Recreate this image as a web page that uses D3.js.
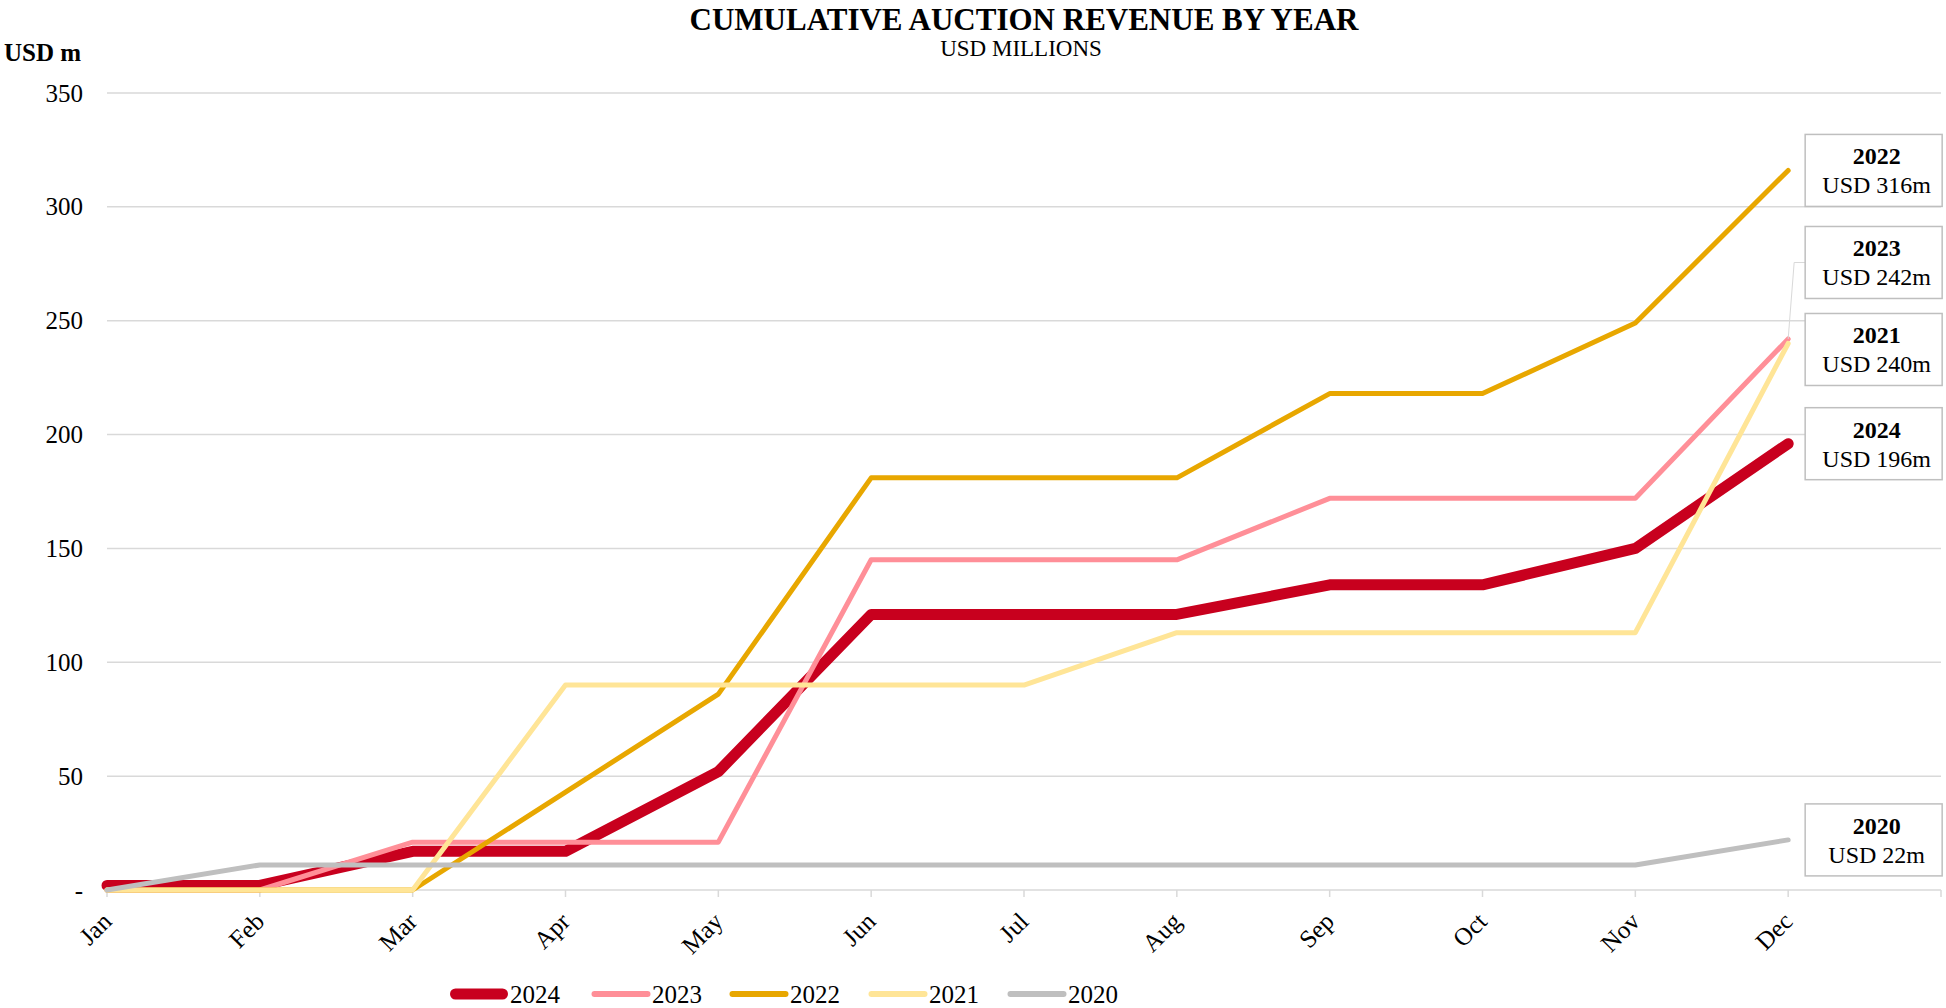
<!DOCTYPE html>
<html>
<head>
<meta charset="utf-8">
<script src="https://cdn.jsdelivr.net/npm/d3@7"></script>
<style>
  body { margin: 0; background: #fff; }
  svg { display: block; font-family: "Liberation Serif", "DejaVu Serif", serif; }
</style>
</head>
<body>
<div id="chart"></div>
<script>
// Data
const months = ["Jan", "Feb", "Mar", "Apr", "May", "Jun", "Jul", "Aug", "Sep", "Oct", "Nov", "Dec"];
const years = ["2024", "2023", "2022", "2021", "2020"];
const rev2024 = [2, 2, 17, 17, 52, 121, 121, 121, 134, 134, 150, 196];
const rev2023 = [0, 0, 21, 21, 21, 145, 145, 145, 172, 172, 172, 242];
const rev2022 = [0, 0, 0, 43, 86, 181, 181, 181, 218, 218, 249, 316];
const rev2021 = [0, 0, 0, 90, 90, 90, 90, 113, 113, 113, 113, 240];
const rev2020 = [0, 11, 11, 11, 11, 11, 11, 11, 11, 11, 11, 22];
const yTicks = [0, 50, 100, 150, 200, 250, 300, 350];

const series = [
  { year: years[0], values: rev2024, color: "#C8001E", width: 11 },
  { year: years[1], values: rev2023, color: "#FF8F98", width: 5 },
  { year: years[2], values: rev2022, color: "#E8A700", width: 5 },
  { year: years[3], values: rev2021, color: "#FFE597", width: 5 },
  { year: years[4], values: rev2020, color: "#BFBFBF", width: 5 }
];

const width = 1946, height = 1008;
const margin = { top: 93, right: 5, bottom: 118, left: 107 };

const svg = d3.select("#chart").append("svg")
    .attr("width", width)
    .attr("height", height);

// Scales
const x = d3.scalePoint()
    .domain(months)
    .range([margin.left, width - margin.right - (width - margin.left - margin.right) / 12]);
const axisEnd = width - margin.right;

const y = d3.scaleLinear()
    .domain([0, 350])
    .range([height - margin.bottom, margin.top]);

// Titles
const plotMid = (margin.left + axisEnd) / 2;
svg.append("text")
    .attr("x", plotMid).attr("y", 30)
    .attr("text-anchor", "middle")
    .attr("font-size", 31).attr("font-weight", "bold")
    .text("CUMULATIVE AUCTION REVENUE BY YEAR");
svg.append("text")
    .attr("x", plotMid - 3).attr("y", 56)
    .attr("text-anchor", "middle")
    .attr("font-size", 23)
    .text("USD MILLIONS");
svg.append("text")
    .attr("x", 4).attr("y", 61)
    .attr("font-size", 25).attr("font-weight", "bold")
    .text("USD m");

// Gridlines
svg.append("g")
    .selectAll("line")
    .data(yTicks.filter(d => d > 0))
    .enter().append("line")
    .attr("x1", margin.left).attr("x2", axisEnd)
    .attr("y1", d => y(d)).attr("y2", d => y(d))
    .attr("stroke", "#D9D9D9").attr("stroke-width", 1.5);

// Y axis
const yAxis = svg.append("g")
    .attr("transform", `translate(${margin.left},0)`)
    .call(d3.axisLeft(y).tickValues(yTicks).tickSize(0).tickPadding(24)
        .tickFormat(d => d === 0 ? "-" : d));
yAxis.select(".domain").remove();
yAxis.attr("font-family", null);
yAxis.selectAll("text")
    .attr("font-size", 25).attr("fill", "#000");

// X axis
const xg = svg.append("g");
xg.append("line")
    .attr("x1", margin.left).attr("x2", axisEnd)
    .attr("y1", y(0)).attr("y2", y(0))
    .attr("stroke", "#D9D9D9").attr("stroke-width", 1.5);
xg.selectAll("line.tick")
    .data(months.map(m => x(m)).concat([axisEnd]))
    .enter().append("line")
    .attr("class", "tick")
    .attr("x1", d => d).attr("x2", d => d)
    .attr("y1", y(0)).attr("y2", y(0) + 7)
    .attr("stroke", "#D9D9D9").attr("stroke-width", 1.5);
xg.selectAll("text")
    .data(months)
    .enter().append("text")
    .attr("transform", d => `translate(${x(d) + 6},${y(0) + 33}) rotate(-45)`)
    .attr("text-anchor", "end")
    .attr("font-size", 25)
    .text(d => d);

// Lines
const line = d3.line()
    .x((d, i) => x(months[i]))
    .y(d => y(d));

svg.append("g")
    .selectAll("path")
    .data(series)
    .enter().append("path")
    .attr("d", d => line(d.values))
    .attr("fill", "none")
    .attr("stroke", d => d.color)
    .attr("stroke-width", d => d.width)
    .attr("stroke-linecap", "round")
    .attr("stroke-linejoin", "round");

// End labels (callouts), stacked upward so they don't overlap
const boxW = 137, boxH = 72, gap = 15;
const labels = series.map(s => {
  const v = s.values[s.values.length - 1];
  return { year: s.year, value: v, py: y(v), cy: y(v) };
}).sort((a, b) => b.py - a.py);
for (let i = 1; i < labels.length; i++) {
  const below = labels[i - 1];
  if (labels[i].cy > below.cy - boxH - gap) {
    // nudge the lower one down a little, push the upper one up the rest
    if (below.cy === below.py) below.cy += 6;
    labels[i].cy = below.cy - boxH - gap;
  }
}

const boxX = x("Dec") + 17;
const callouts = svg.append("g");
labels.forEach(l => {
  if (Math.abs(l.cy - l.py) > 20) {
    callouts.append("polyline")
        .attr("points", `${boxX},${l.cy} ${boxX - 11},${l.cy} ${x("Dec")},${l.py}`)
        .attr("fill", "none")
        .attr("stroke", "#D9D9D9").attr("stroke-width", 1);
  }
  const g = callouts.append("g")
      .attr("transform", `translate(${boxX},${l.cy - boxH / 2})`);
  g.append("rect")
      .attr("width", boxW).attr("height", boxH)
      .attr("fill", "#fff")
      .attr("stroke", "#BFBFBF").attr("stroke-width", 1.5);
  g.append("text")
      .attr("x", boxW / 2 + 3).attr("y", 30)
      .attr("text-anchor", "middle")
      .attr("font-size", 24).attr("font-weight", "bold")
      .text(l.year);
  g.append("text")
      .attr("x", boxW / 2 + 3).attr("y", 59)
      .attr("text-anchor", "middle")
      .attr("font-size", 24)
      .text(`USD ${l.value}m`);
});

// Legend
const legendX = [450, 592, 730, 869, 1008];
const legend = svg.append("g");
series.forEach((s, i) => {
  const g = legend.append("g").attr("transform", `translate(${legendX[i]},${height - 14})`);
  g.append("line")
      .attr("x1", s.width / 2).attr("x2", 58 - s.width / 2)
      .attr("stroke", s.color)
      .attr("stroke-width", s.width === 11 ? 11 : 6)
      .attr("stroke-linecap", "round");
  g.append("text")
      .attr("x", 60).attr("y", 9)
      .attr("font-size", 25)
      .text(s.year);
});
</script>
</body>
</html>
